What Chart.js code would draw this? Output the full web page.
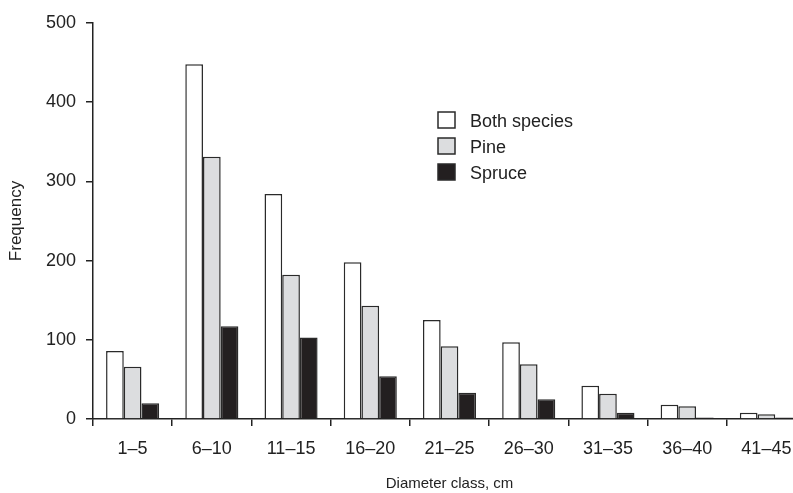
<!DOCTYPE html>
<html>
<head>
<meta charset="utf-8">
<script src="https://cdn.jsdelivr.net/npm/chart.js@4/dist/chart.umd.min.js"></script>
<style>
  html, body { margin: 0; padding: 0; background: #fff; overflow: hidden; }
  #wrap { width: 793px; height: 493px; overflow: hidden; }
</style>
</head>
<body>
<div id="wrap"><canvas id="diamChart" width="820" height="493"></canvas></div>
<script>
// chart data
const classes = ['1\u20135', '6\u201310', '11\u201315', '16\u201320', '21\u201325', '26\u201330', '31\u201335', '36\u201340', '41\u201345'];
const bothSpecies = [86, 448, 284, 198, 125, 97, 42, 18, 8];
const pine = [66, 331, 182, 143, 92, 69, 32, 16, 6];
const spruce = [20, 117, 103, 54, 33, 25, 8, 2, 2];
const yTicks = [0, 100, 200, 300, 400, 500];

const FONT = '"Liberation Sans", Arial, Helvetica, sans-serif';
const INK = '#222';

// simple legend drawn inside the plot, like the original figure
const boxLegend = {
    id: 'boxLegend',
    afterDraw(chart) {
        const c = chart.ctx;
        c.save();
        c.font = '18px ' + FONT;
        c.textBaseline = 'middle';
        chart.data.datasets.forEach((ds, i) => {
            const y = 112 + i * 26;
            c.fillStyle = ds.backgroundColor;
            c.fillRect(438, y, 17, 16);
            c.lineWidth = 1.5;
            c.strokeStyle = '#2a2a2a';
            c.strokeRect(438, y, 17, 16);
            c.fillStyle = INK;
            c.fillText(ds.label, 470, y + 10);
        });
        c.restore();
    }
};

const ctx = document.getElementById('diamChart').getContext('2d');

new Chart(ctx, {
    type: 'bar',
    data: {
        labels: classes,
        datasets: [
            { label: 'Both species', data: bothSpecies, backgroundColor: '#ffffff' },
            { label: 'Pine', data: pine, backgroundColor: '#dcdddf' },
            { label: 'Spruce', data: spruce, backgroundColor: '#231f20' }
        ]
    },
    options: {
        responsive: false,
        animation: false,
        layout: { padding: { top: 23, right: 14, left: 0, bottom: 0 } },
        datasets: {
            bar: {
                borderColor: '#2a2a2a',
                borderWidth: 1.5,
                categoryPercentage: 0.67,
                barPercentage: 1.0
            }
        },
        plugins: {
            legend: { display: false },
            tooltip: { enabled: false }
        },
        scales: {
            x: {
                grid: { display: true, drawOnChartArea: false, drawTicks: true, tickLength: 7, color: INK, lineWidth: 1.5, offset: true },
                border: { display: true, color: INK, width: 1.5 },
                ticks: { color: INK, font: { family: FONT, size: 18 }, padding: 12, maxRotation: 0 },
                title: { display: true, text: 'Diameter class, cm', color: INK, font: { family: FONT, size: 15 }, padding: { top: 11, bottom: 0 } },
                afterFit(scale) { scale.height = 74; }
            },
            y: {
                min: 0,
                max: 500,
                afterBuildTicks(scale) { scale.ticks = yTicks.map(v => ({ value: v })); },
                grid: { display: true, drawOnChartArea: false, drawTicks: true, tickLength: 7, color: INK, lineWidth: 1.5 },
                border: { display: true, color: INK, width: 1.5 },
                ticks: { color: INK, font: { family: FONT, size: 18 }, padding: 10 },
                title: { display: true, text: 'Frequency', color: INK, font: { family: FONT, size: 17 }, padding: { top: 6, bottom: 4 } },
                afterFit(scale) { scale.width = 93; }
            }
        }
    },
    plugins: [boxLegend]
});
</script>
</body>
</html>
